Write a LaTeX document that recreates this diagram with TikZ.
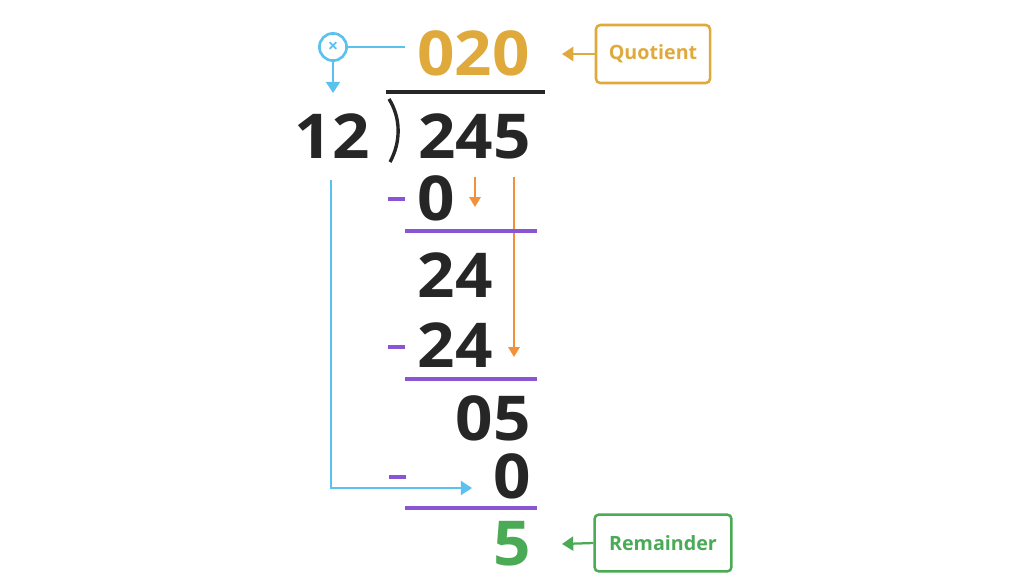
\documentclass[tikz,border=0pt]{standalone}
\usepackage{fontspec}
\setmainfont{Open Sans}
\newfontfamily\digitfont[FakeStretch=1.06]{Open Sans}
\usetikzlibrary{arrows.meta}

\definecolor{gold}{HTML}{DFA93C}
\definecolor{skyblue}{HTML}{5BC1EE}
\definecolor{carrot}{HTML}{F2913A}
\definecolor{violet}{HTML}{8A55D4}
\definecolor{leaf}{HTML}{4AAA55}
\definecolor{ink}{HTML}{262626}

\tikzset{
  digit/.style = {font=\digitfont\fontsize{44}{44}\selectfont\bfseries, inner sep=0pt, anchor=base east, text=ink},
  tag/.style = {draw, rounded corners=3pt, line width=1.8pt, font=\fontsize{14}{14}\selectfont\bfseries},
  bluearrow/.style = {skyblue, line width=1.6pt, -{Triangle[width=10pt,length=8pt]}},
  orangearrow/.style = {carrot, line width=1.3pt, -{Triangle[width=8pt,length=7pt]}},
  subline/.style = {violet, line width=2.2pt},
}

\begin{document}
\begin{tikzpicture}[x=0.025cm, y=-0.025cm]
\useasboundingbox (0,0) rectangle (1024,574);

% quotient row
\node[digit, text=gold] (quo) at (530,75){020};
\node[draw=skyblue, line width=1.9pt, circle, minimum size=0.68cm, inner sep=0pt, text=skyblue, font=\fontsize{13}{13}\selectfont\bfseries] (times) at (333,47){×};
\coordinate (timesend) at (405,47);
\coordinate (timesdown) at (333,93);
\draw[skyblue, line width=1.6pt] (times.east) -- (timesend);
\draw[bluearrow] (times.south) -- (timesdown);
\node[tag, draw=gold, text=gold, minimum width=2.85cm, minimum height=1.45cm] (quotag) at (653,54){Quotient};
\coordinate (quotip) at (562,54);
\draw[gold, line width=1.6pt, -{Triangle[width=10pt,length=8pt]}] (quotag.west) -- (quotip);

% divisor and dividend
\node[digit] (divisor) at (370,158){12};
\node[digit] (dividend) at (531,158){245};
\draw[ink, line width=2.6pt] (386,92) -- (545,92);
\draw[ink, line width=2.4pt] (389,99) .. controls (401,118) and (401,142) .. (390,162);

% first step
\draw[subline] (388,199) -- (405,199);
\node[digit] (first) at (455,220){0};
\coordinate (a1) at (475,177);
\coordinate (a2) at (475,207);
\draw[orangearrow] (a1) -- (a2);
\coordinate (b1) at (514,177);
\coordinate (b2) at (514,357);
\draw[orangearrow] (b1) -- (b2);
\draw[subline] (405,231) -- (537,231);

% second step
\node[digit] (rest1) at (493,297){24};
\draw[subline] (388,347) -- (405,347);
\node[digit] (second) at (493,367){24};
\draw[subline] (405,379) -- (537,379);

% third step
\node[digit] (rest2) at (531,440){05};
\draw[subline] (389,477) -- (406,477);
\node[digit] (third) at (531,498){0};
\coordinate (lstart) at (331,180);
\coordinate (lend) at (472,488);
\draw[bluearrow] (lstart) |- (lend);
\draw[subline] (405,508) -- (537,508);

% remainder
\node[digit, text=leaf] (rem) at (531,565){5};
\node[tag, draw=leaf, text=leaf, minimum width=3.42cm, minimum height=1.42cm] (remtag) at (663,543){Remainder};
\coordinate (remtip) at (562,544);
\draw[leaf, line width=1.6pt, -{Triangle[width=10pt,length=8pt]}] (remtag.west) -- (remtip);
\end{tikzpicture}
\end{document}
